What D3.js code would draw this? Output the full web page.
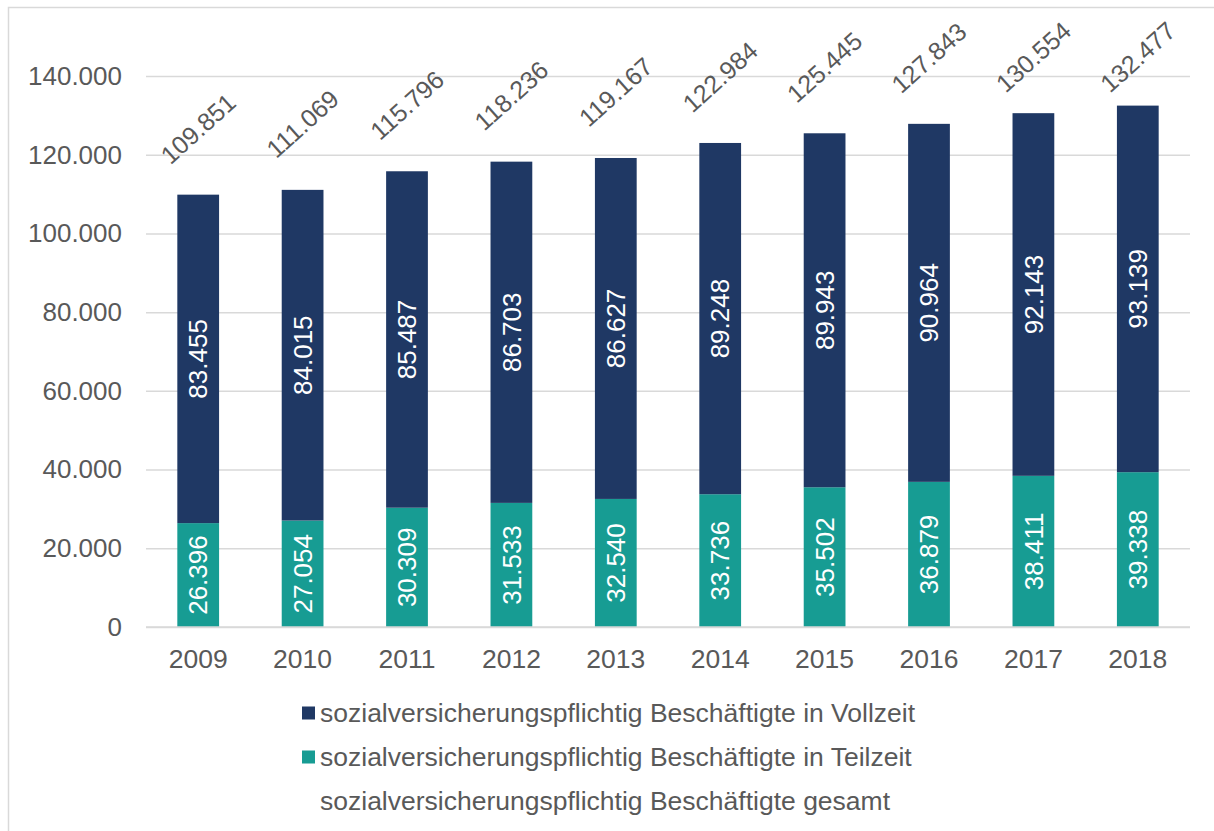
<!DOCTYPE html>
<html>
<head>
<meta charset="utf-8">
<script src="https://cdn.jsdelivr.net/npm/d3@7"></script>
<style>
  html, body { margin: 0; padding: 0; background: #fff; }
  svg { display: block; font-family: "Liberation Sans", Arial, sans-serif; }
</style>
</head>
<body>
<div class="main-container"></div>
<script>
// chart data
const years = ['2009', '2010', '2011', '2012', '2013', '2014', '2015', '2016', '2017', '2018'];
const teilzeit = [26396, 27054, 30309, 31533, 32540, 33736, 35502, 36879, 38411, 39338];
const vollzeit = [83455, 84015, 85487, 86703, 86627, 89248, 89943, 90964, 92143, 93139];
const gesamt = [109851, 111069, 115796, 118236, 119167, 122984, 125445, 127843, 130554, 132477];
const yTicks = [0, 20000, 40000, 60000, 80000, 100000, 120000, 140000];
const seriesNames = [
    'sozialversicherungspflichtig Beschäftigte in Vollzeit',
    'sozialversicherungspflichtig Beschäftigte in Teilzeit',
    'sozialversicherungspflichtig Beschäftigte gesamt'
];

const width = 1214;
const height = 831;
const colors = {voll: '#1f3864', teil: '#179c93', grid: '#d9d9d9', text: '#595959'};

const de = d3.formatLocale({decimal: ',', thousands: '.', grouping: [3], currency: ['', ' €']});
const fmt = de.format(',d');

const svg = d3.select('.main-container')
    .append('svg')
    .attr('width', width)
    .attr('height', height);

// outer chart frame (cut off at right and bottom)
svg.append('rect')
    .attr('x', 8.5).attr('y', 7.5)
    .attr('width', width + 20).attr('height', height + 20)
    .attr('fill', 'none')
    .attr('stroke', colors.grid)
    .attr('stroke-width', 1.5);

const x = d3.scaleBand()
    .domain(years)
    .range([146, 1190])
    .paddingInner(0.6)
    .paddingOuter(0.3);

const y = d3.scaleLinear()
    .domain([0, 140000])
    .range([627, 76]);

// gridlines + y labels
const yAxis = svg.append('g')
    .attr('transform', 'translate(146,0)')
    .call(d3.axisLeft(y).tickValues(yTicks).tickFormat(fmt).tickSize(-(1190 - 146)).tickPadding(24));
yAxis.select('.domain').remove();
yAxis.selectAll('line').attr('stroke', colors.grid).attr('stroke-width', 1.5);
yAxis.selectAll('text')
    .attr('fill', colors.text)
    .attr('font-size', 26)
    .attr('font-family', '"Liberation Sans", Arial, sans-serif');

// bars
const rows = years.map((yr, i) => ({year: yr, teil: teilzeit[i], voll: vollzeit[i], total: gesamt[i]}));

const g = svg.append('g');

g.selectAll('.teil')
    .data(rows)
    .join('rect')
    .attr('x', d => x(d.year))
    .attr('width', x.bandwidth())
    .attr('y', d => y(d.teil))
    .attr('height', d => y(0) - y(d.teil))
    .attr('fill', colors.teil);

g.selectAll('.voll')
    .data(rows)
    .join('rect')
    .attr('x', d => x(d.year))
    .attr('width', x.bandwidth())
    .attr('y', d => y(d.teil + d.voll))
    .attr('height', d => y(d.teil) - y(d.teil + d.voll))
    .attr('fill', colors.voll);

// baseline
svg.append('line')
    .attr('x1', 146).attr('x2', 1190)
    .attr('y1', y(0)).attr('y2', y(0))
    .attr('stroke', colors.grid)
    .attr('stroke-width', 1.5);

// segment labels (rotated, white)
const segLabel = (sel, getMid, getVal) => sel
    .join('text')
    .attr('transform', d => `translate(${x(d.year) + x.bandwidth() / 2},${getMid(d)}) rotate(-90)`)
    .attr('text-anchor', 'middle')
    .attr('dy', '0.35em')
    .attr('fill', '#fff')
    .attr('font-size', 26)
    .text(d => fmt(getVal(d)));

segLabel(g.selectAll('.lt').data(rows), d => (y(0) + y(d.teil)) / 2, d => d.teil);
segLabel(g.selectAll('.lv').data(rows), d => (y(d.teil) + y(d.teil + d.voll)) / 2, d => d.voll);

// totals above bars, kept inside the chart area
g.selectAll('.tot')
    .data(rows)
    .join('text')
    .attr('transform', d => `translate(${x(d.year) + x.bandwidth() / 2},${Math.max(y(d.total) - 66, 57)}) rotate(-42)`)
    .attr('text-anchor', 'middle')
    .attr('dy', '0.35em')
    .attr('fill', colors.text)
    .attr('font-size', 25)
    .text(d => fmt(d.total));

// x labels
svg.append('g')
    .selectAll('text')
    .data(years)
    .join('text')
    .attr('x', d => x(d) + x.bandwidth() / 2)
    .attr('y', 668)
    .attr('text-anchor', 'middle')
    .attr('fill', colors.text)
    .attr('font-size', 26.5)
    .text(d => d);

// legend
const legend = svg.append('g').attr('transform', 'translate(302,0)');
const legendColors = [colors.voll, colors.teil, null];
seriesNames.forEach((name, i) => {
    const cy = 713 + i * 44;
    if (legendColors[i]) {
        legend.append('rect')
            .attr('x', 0).attr('y', cy - 6.5)
            .attr('width', 13).attr('height', 13)
            .attr('fill', legendColors[i]);
    }
    legend.append('text')
        .attr('x', 18)
        .attr('y', cy)
        .attr('dy', '0.35em')
        .attr('fill', colors.text)
        .attr('font-size', 26.5)
        .text(name);
});
</script>
</body>
</html>
